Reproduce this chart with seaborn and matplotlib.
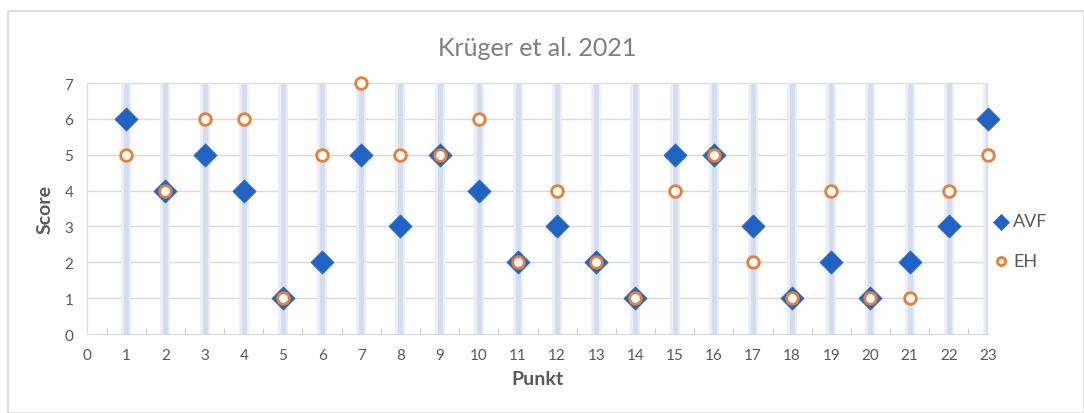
import matplotlib
matplotlib.use("Agg")
import matplotlib.pyplot as plt
from matplotlib.patches import Rectangle
import seaborn as sns
import pandas as pd

# Data
punkte = list(range(1, 24))
avf = [6, 4, 5, 4, 1, 2, 5, 3, 5, 4, 2, 3, 2, 1, 5, 5, 3, 1, 2, 1, 2, 3, 6]
eh = [5, 4, 6, 6, 1, 5, 7, 5, 5, 6, 2, 4, 2, 1, 4, 5, 2, 1, 4, 1, 1, 4, 5]

df_avf = pd.DataFrame({'Punkt': punkte, 'Score': avf})
df_eh = pd.DataFrame({'Punkt': punkte, 'Score': eh})

sns.set_style("white")
plt.rcParams['font.family'] = ['Lato', 'DejaVu Sans']

fig = plt.figure(figsize=(10.84, 4.14), dpi=100)
ax = fig.add_axes([0.0803, 0.1908, 0.8311, 0.6062])

# outer chart frame
fig.patches.append(Rectangle((8 / 1084, 0), 1 - 8 / 1084, 1 - 12 / 414, transform=fig.transFigure,
                             fill=False, edgecolor='#d9d9d9', lw=1.2))

# vertical bands at each point
for p in punkte:
    ax.axvline(p, color='#e8edf7', lw=7, zorder=1)
    ax.axvline(p, color='#d3ddef', lw=3.5, zorder=1)

for y in range(1, 8):
    ax.axhline(y, color='#d9d9d9', lw=1, zorder=0.5)

sns.scatterplot(data=df_avf, x='Punkt', y='Score', marker='D', s=140, color='#1f63c6',
                edgecolor='#2f6cc0', linewidth=0.5, label='AVF', zorder=3, ax=ax, clip_on=False)
sns.scatterplot(data=df_eh, x='Punkt', y='Score', marker='o', s=70, facecolor='white',
                edgecolor='#ed7d31', linewidth=2, label='EH', zorder=4, ax=ax, clip_on=False)

ax.set_xlim(0, 23)
ax.set_ylim(0, 7)
ax.set_xticks(range(0, 24))
ax.set_xticks([i + 0.5 for i in range(23)], minor=True)
ax.set_yticks(range(0, 8))
ax.tick_params(axis='both', which='major', length=0, labelsize=11, labelcolor='#595959', pad=10)
ax.tick_params(axis='x', which='minor', direction='in', length=4, color='#bfbfbf', bottom=True)

for s in ['top', 'right']:
    ax.spines[s].set_visible(False)
ax.spines['left'].set_color('#d9d9d9')
ax.spines['bottom'].set_color('#d9d9d9')

ax.set_xlabel('Punkt', fontweight='bold', fontsize=14, color='#595959', labelpad=6)
ax.set_ylabel('Score', fontweight='bold', fontsize=14, color='#595959', labelpad=8)
ax.set_title('Krüger et al. 2021', fontsize=18, color='#7f7f7f', pad=20)

ax.legend(loc='center left', bbox_to_anchor=(0.982, 0.37), frameon=False, fontsize=13,
          labelcolor='#595959', handletextpad=0.0, labelspacing=1.3, handlelength=1.4,
          markerscale=0.7)

fig.savefig('out.png', dpi=100)
